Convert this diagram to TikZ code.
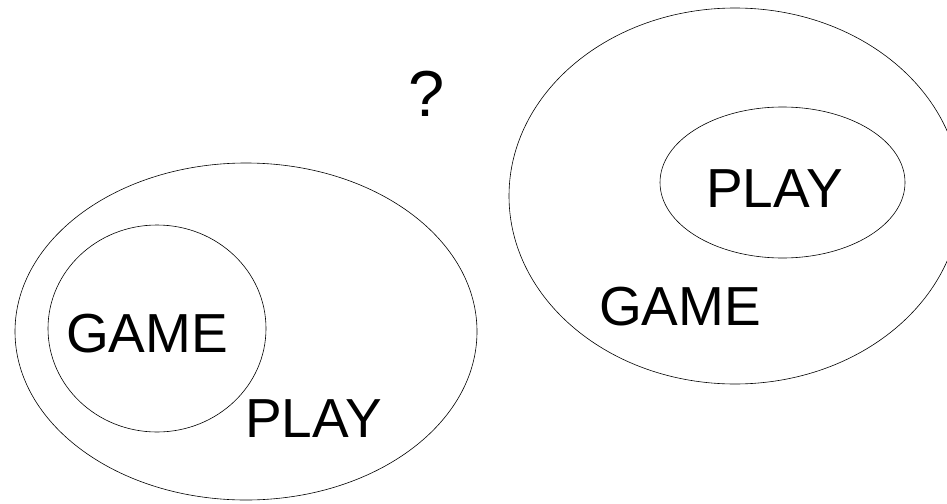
\documentclass[tikz,border=0pt]{standalone}
\usepackage{fontspec}
\setmainfont{Liberation Sans}
\usetikzlibrary{shapes.geometric}
\begin{document}
\begin{tikzpicture}[x=1pt,y=-1pt,
  set/.style={draw, ellipse, line width=0.6pt, inner sep=0pt},
  lbl/.style={anchor=base west, inner sep=0pt, font=\fontsize{55}{60}\selectfont}]
\useasboundingbox (0,0) rectangle (947,503);
\node[set, minimum width=462pt, minimum height=337pt] (bigL) at (246,331.5) {};
\node[set, minimum width=218pt, minimum height=207pt] (gameL) at (157,328.5) {};
\node[set, minimum width=452pt, minimum height=376pt] (bigR) at (735,196) {};
\node[set, minimum width=245pt, minimum height=151pt] (playR) at (782.5,182.5) {};
\node[lbl] (tgameL) at (66,352) {GAME};
\node[lbl] (tplayL) at (245,437) {PLAY};
\node[lbl] (tplayR) at (706,207) {PLAY};
\node[lbl] (tgameR) at (599,325) {GAME};
\node[anchor=base, inner sep=0pt, font=\fontsize{65}{70}\selectfont] (q) at (427,116) {?};
\end{tikzpicture}
\end{document}
